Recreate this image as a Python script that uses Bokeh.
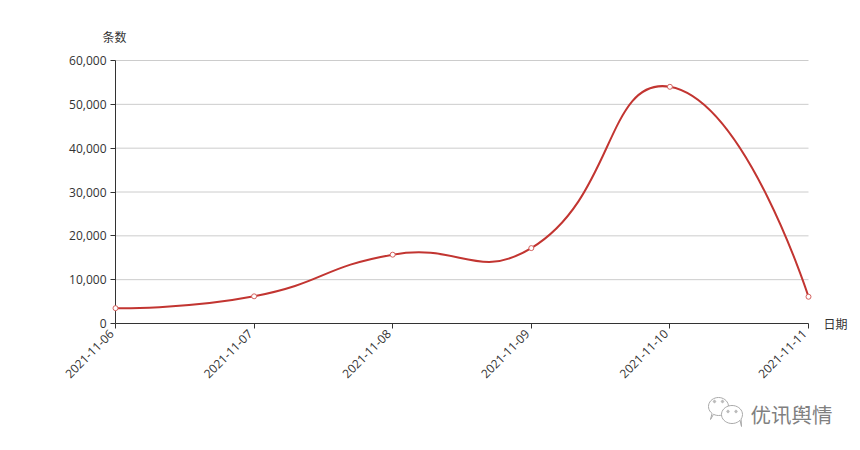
import math
from bokeh.core.properties import value
from bokeh.embed import file_html
from bokeh.layouts import column
from bokeh.resources import INLINE
from bokeh.plotting import figure
from bokeh.models import (FixedTicker, NumeralTickFormatter, LinearAxis, Range1d)

dates = ["2021-11-06", "2021-11-07", "2021-11-08", "2021-11-09", "2021-11-10", "2021-11-11"]
counts = [3500, 6200, 15700, 17200, 54000, 6100]
y_ticks = [0, 10000, 20000, 30000, 40000, 50000, 60000]
y_name = "条数"
x_name = "日期"
watermark = "优讯舆情"

TEXT = "#333333"
CJK = "Noto Sans CJK SC"
RED = "#c23531"
PX_PER_DAY = 138.6
PX_PER_UNIT = 263 / 60000
PAD_X = 8 / PX_PER_DAY
PAD_Y = 4 / PX_PER_UNIT
SMOOTH = 0.5

p = figure(width=852, height=395, frame_width=709, frame_height=267,
           output_backend="svg", toolbar_location=None,
           x_range=Range1d(-PAD_X, 5 + PAD_X), y_range=Range1d(0, 60000 + PAD_Y),
           min_border_left=107, min_border_top=56, min_border_right=36, min_border_bottom=72)
p.outline_line_color = None
p.xgrid.visible = False
p.ygrid.visible = False

x_idx = list(range(len(dates)))

p.segment([0] * 6, y_ticks[1:], [5] * 6, y_ticks[1:], line_color="#cccccc", line_width=1)
p.segment([0], [0], [0], [y_ticks[-1]], line_color=TEXT, line_width=1)

# the tick marks sit on the dates; the slanted date labels end a little to the left of them
xa = p.xaxis[0]
xa.ticker = FixedTicker(ticks=x_idx)
xa.major_label_overrides = {i: "" for i in x_idx}
xa.bounds = (0, 5)
xa.axis_line_color = TEXT
xa.major_tick_in = 0
xa.major_tick_out = 5
xa.major_label_standoff = 0
ya = p.yaxis[0]
ya.ticker = FixedTicker(ticks=y_ticks)
ya.formatter = NumeralTickFormatter(format="0,0")
ya.axis_line_color = None
ya.major_tick_in = 8
ya.major_tick_out = -3
ya.major_label_standoff = 1
for a in (xa, ya):
    a.major_tick_line_color = TEXT
    a.minor_tick_line_color = None
    a.major_label_text_color = TEXT
    a.major_label_text_font = "Open Sans"
    a.major_label_text_font_size = "12px"

label_ticks = [i - 4 / PX_PER_DAY for i in x_idx]
xl = LinearAxis(ticker=FixedTicker(ticks=label_ticks), major_label_overrides=dict(zip(label_ticks, dates)),
                axis_line_color=None, major_tick_line_color=None, minor_tick_line_color=None,
                major_tick_in=0, major_tick_out=0, major_label_standoff=3,
                major_label_orientation=math.pi / 4, major_label_text_color=TEXT,
                major_label_text_font="Open Sans", major_label_text_font_size="12px")
p.add_layout(xl, "below")

def name_axis(side, tick, text, standoff):
    ax = LinearAxis(ticker=FixedTicker(ticks=[tick]), major_label_overrides={tick: text},
                    axis_line_color=None, major_tick_line_color=None, minor_tick_line_color=None,
                    major_tick_in=0, major_tick_out=0, major_label_standoff=standoff,
                    major_label_text_color=TEXT, major_label_text_font=CJK,
                    major_label_text_font_size="12px")
    p.add_layout(ax, side)

name_axis("above", -1 / PX_PER_DAY, y_name, 12)
name_axis("right", 0, x_name, 7)

px = [i * PX_PER_DAY for i in x_idx]
py = [v * PX_PER_UNIT for v in counts]
out_c, in_c = [], []
for i in x_idx:
    if i == 0 or i == len(px) - 1:
        out_c.append((px[i], py[i])); in_c.append((px[i], py[i])); continue
    vx, vy = px[i + 1] - px[i - 1], py[i + 1] - py[i - 1]
    ln = math.hypot(px[i + 1] - px[i], py[i + 1] - py[i])
    lp = math.hypot(px[i] - px[i - 1], py[i] - py[i - 1])
    r = ln / (ln + lp)
    out_c.append((px[i] + vx * SMOOTH * r, py[i] + vy * SMOOTH * r))
    in_c.append((px[i] - vx * SMOOTH * (1 - r), py[i] - vy * SMOOTH * (1 - r)))
p.bezier(x0=x_idx[:-1], y0=counts[:-1], x1=x_idx[1:], y1=counts[1:],
         cx0=[c[0] / PX_PER_DAY for c in out_c[:-1]], cy0=[c[1] / PX_PER_UNIT for c in out_c[:-1]],
         cx1=[c[0] / PX_PER_DAY for c in in_c[1:]], cy1=[c[1] / PX_PER_UNIT for c in in_c[1:]],
         line_color=RED, line_width=2)
p.scatter(x_idx, counts, marker="circle", size=5, fill_color="white",
          line_color="#d4615e", line_width=1)

# the watermark strip below the chart, in its own small figure measured in page pixels
wm = figure(width=852, height=40, frame_width=745, frame_height=40,
            output_backend="svg", toolbar_location=None,
            x_range=Range1d(107, 852), y_range=Range1d(435, 395),
            x_axis_type=None, y_axis_type=None,
            min_border_left=107, min_border_right=0, min_border_top=0, min_border_bottom=0)
wm.outline_line_color = None
wm.grid.visible = False

def bubble(cx, cy, rx, ry, tail=None, fill="white", col="#aaaaaa"):
    xs = [cx + rx * math.cos(2 * math.pi * i / 36) for i in range(36)]
    ys = [cy + ry * math.sin(2 * math.pi * i / 36) for i in range(36)]
    if tail:
        xs.insert(tail[0], tail[1]); ys.insert(tail[0], tail[2])
    wm.patch(xs, ys, fill_color=fill, line_color=col, line_width=1)

bubble(718, 406, 10, 9, tail=(13, 710, 419))
bubble(731.5, 414, 10.5, 9, tail=(4, 741, 426))
for cx, cy in [(714, 401), (722, 401), (727.5, 411), (735.5, 411)]:
    bubble(cx, cy, 1.2, 1.2, fill="#bbbbbb", col="#bbbbbb")
wm.text([750], [413], text=[watermark], text_font=value(CJK), text_font_size="20.5px",
        text_color="#808080", text_align="left", text_baseline="middle")

open("out.html", "w").write(file_html(column(p, wm, spacing=0), INLINE))
